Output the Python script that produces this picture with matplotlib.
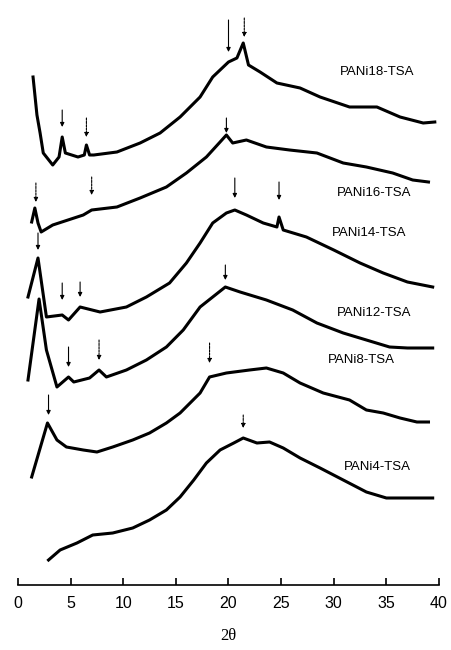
import matplotlib
matplotlib.use("Agg")
import matplotlib.pyplot as plt

# ---- data (2theta, intensity a.u.) ----
x18 = [1.43, 1.8, 2.1, 2.4, 3.3, 3.9, 4.2, 4.5, 5.7, 6.3, 6.5, 6.8, 7.2, 9.4, 11.6, 13.5, 15.4, 17.3, 18.5, 20.0, 20.8, 21.4, 21.9, 23.0, 24.6, 26.8, 28.7, 31.5, 34.1, 36.3, 38.5, 39.6]
y18 = [508, 470, 452, 432, 420, 428, 448, 432, 428, 430, 440, 430, 430, 433, 442, 452, 468, 488, 508, 523, 527, 542, 520, 513, 502, 497, 488, 478, 478, 468, 462, 463]

x16 = [1.3, 1.6, 1.9, 2.2, 3.3, 6.2, 7.0, 9.4, 11.6, 14.1, 16.0, 17.9, 19.2, 19.8, 20.4, 21.7, 23.6, 25.8, 28.4, 30.9, 33.1, 35.6, 37.5, 39.0]
y16 = [363, 377, 362, 353, 360, 370, 375, 378, 387, 398, 412, 428, 443, 450, 442, 445, 438, 435, 432, 422, 418, 412, 405, 403]

x14 = [0.95, 1.9, 2.7, 4.2, 4.8, 5.9, 7.8, 10.3, 12.2, 14.4, 16.0, 17.3, 18.5, 19.8, 20.6, 21.7, 23.3, 24.6, 24.8, 25.2, 27.4, 30.0, 32.5, 34.7, 37.0, 39.4]
y14 = [288, 327, 268, 270, 265, 278, 273, 278, 288, 302, 322, 342, 362, 372, 375, 370, 362, 358, 368, 355, 348, 335, 322, 312, 303, 298]

x12 = [0.95, 2.0, 2.7, 3.7, 4.8, 5.3, 6.8, 7.7, 8.4, 10.3, 12.2, 14.1, 15.7, 17.3, 18.5, 19.7, 21.1, 23.6, 26.1, 28.4, 30.9, 33.1, 35.3, 37.0, 39.4]
y12 = [205, 286, 235, 198, 208, 203, 207, 215, 208, 215, 225, 238, 255, 278, 288, 298, 293, 285, 275, 262, 252, 245, 238, 237, 237]

x8 = [1.3, 2.8, 3.7, 4.6, 6.2, 7.5, 9.0, 10.9, 12.5, 14.1, 15.4, 17.3, 18.2, 19.8, 22.0, 23.6, 25.2, 26.8, 29.0, 31.5, 33.1, 34.7, 36.3, 37.9, 39.0]
y8 = [108, 162, 145, 138, 135, 133, 138, 145, 152, 162, 172, 192, 208, 212, 215, 217, 212, 202, 192, 185, 175, 172, 167, 163, 163]

x4 = [2.9, 4.0, 5.6, 7.1, 9.0, 10.9, 12.5, 14.1, 15.4, 16.7, 17.9, 19.2, 20.5, 21.4, 22.7, 23.9, 25.2, 26.8, 28.7, 30.9, 33.1, 35.0, 37.5, 39.4]
y4 = [25, 35, 42, 50, 52, 57, 65, 75, 88, 105, 122, 135, 142, 147, 142, 143, 137, 127, 117, 105, 93, 87, 87, 87]

labels = ["PANi18-TSA", "PANi16-TSA", "PANi14-TSA", "PANi12-TSA", "PANi8-TSA", "PANi4-TSA"]
label_x = [34.1, 33.8, 33.4, 33.8, 32.6, 34.1]
label_y = [513, 392, 352, 272, 225, 118]

# arrows: x, tip, tail, dashed?
arrow_x = [4.2, 6.5, 20.0, 21.5, 1.7, 7.0, 19.8, 1.9, 4.2, 5.9, 20.6, 24.8, 4.8, 7.7, 19.7, 2.9, 18.2, 21.4]
arrow_tip = [458, 448, 533, 548, 383, 390, 452, 335, 285, 288, 387, 385, 218, 225, 305, 170, 222, 157]
arrow_tail = [475, 467, 565, 567, 402, 408, 467, 352, 302, 303, 407, 403, 238, 245, 320, 190, 242, 170]
arrow_dashed = [False, True, False, True, True, True, False, False, False, False, False, False, False, True, False, False, True, True]

xticks = [0, 5, 10, 15, 20, 25, 30, 35, 40]

fig = plt.figure(figsize=(4.52, 6.5), dpi=100)
ax = fig.add_axes([18/452, 65/650, 421/452, 585/650])
ax.set_xlim(0, 40)
ax.set_ylim(0, 585)

for xs, ys in [(x18, y18), (x16, y16), (x14, y14), (x12, y12), (x8, y8), (x4, y4)]:
    ax.plot(xs, ys, color="black", lw=2.2, solid_joinstyle="round")

for t, lx, ly in zip(labels, label_x, label_y):
    ax.text(lx, ly, t, fontsize=9.5, family="Liberation Sans", ha="center", va="center")

for xa, tip, tail, d in zip(arrow_x, arrow_tip, arrow_tail, arrow_dashed):
    ax.annotate("", xy=(xa, tip), xytext=(xa, tail),
                arrowprops=dict(arrowstyle="-|>", color="black", lw=0.8,
                                linestyle=(0, (2, 1)) if d else "-",
                                mutation_scale=6, shrinkA=0, shrinkB=0))

for s in ["left", "right", "top"]:
    ax.spines[s].set_visible(False)
ax.spines["bottom"].set_linewidth(1.2)
ax.set_yticks([])
ax.set_xticks(xticks)
ax.tick_params(axis="x", direction="in", length=5, width=1.2, pad=8)
for lab in ax.get_xticklabels():
    lab.set_family("Liberation Sans")
    lab.set_fontsize(11.5)
ax.set_xlabel("2θ", family="Liberation Serif", fontsize=12, labelpad=12)

fig.savefig("out.png", dpi=100)
